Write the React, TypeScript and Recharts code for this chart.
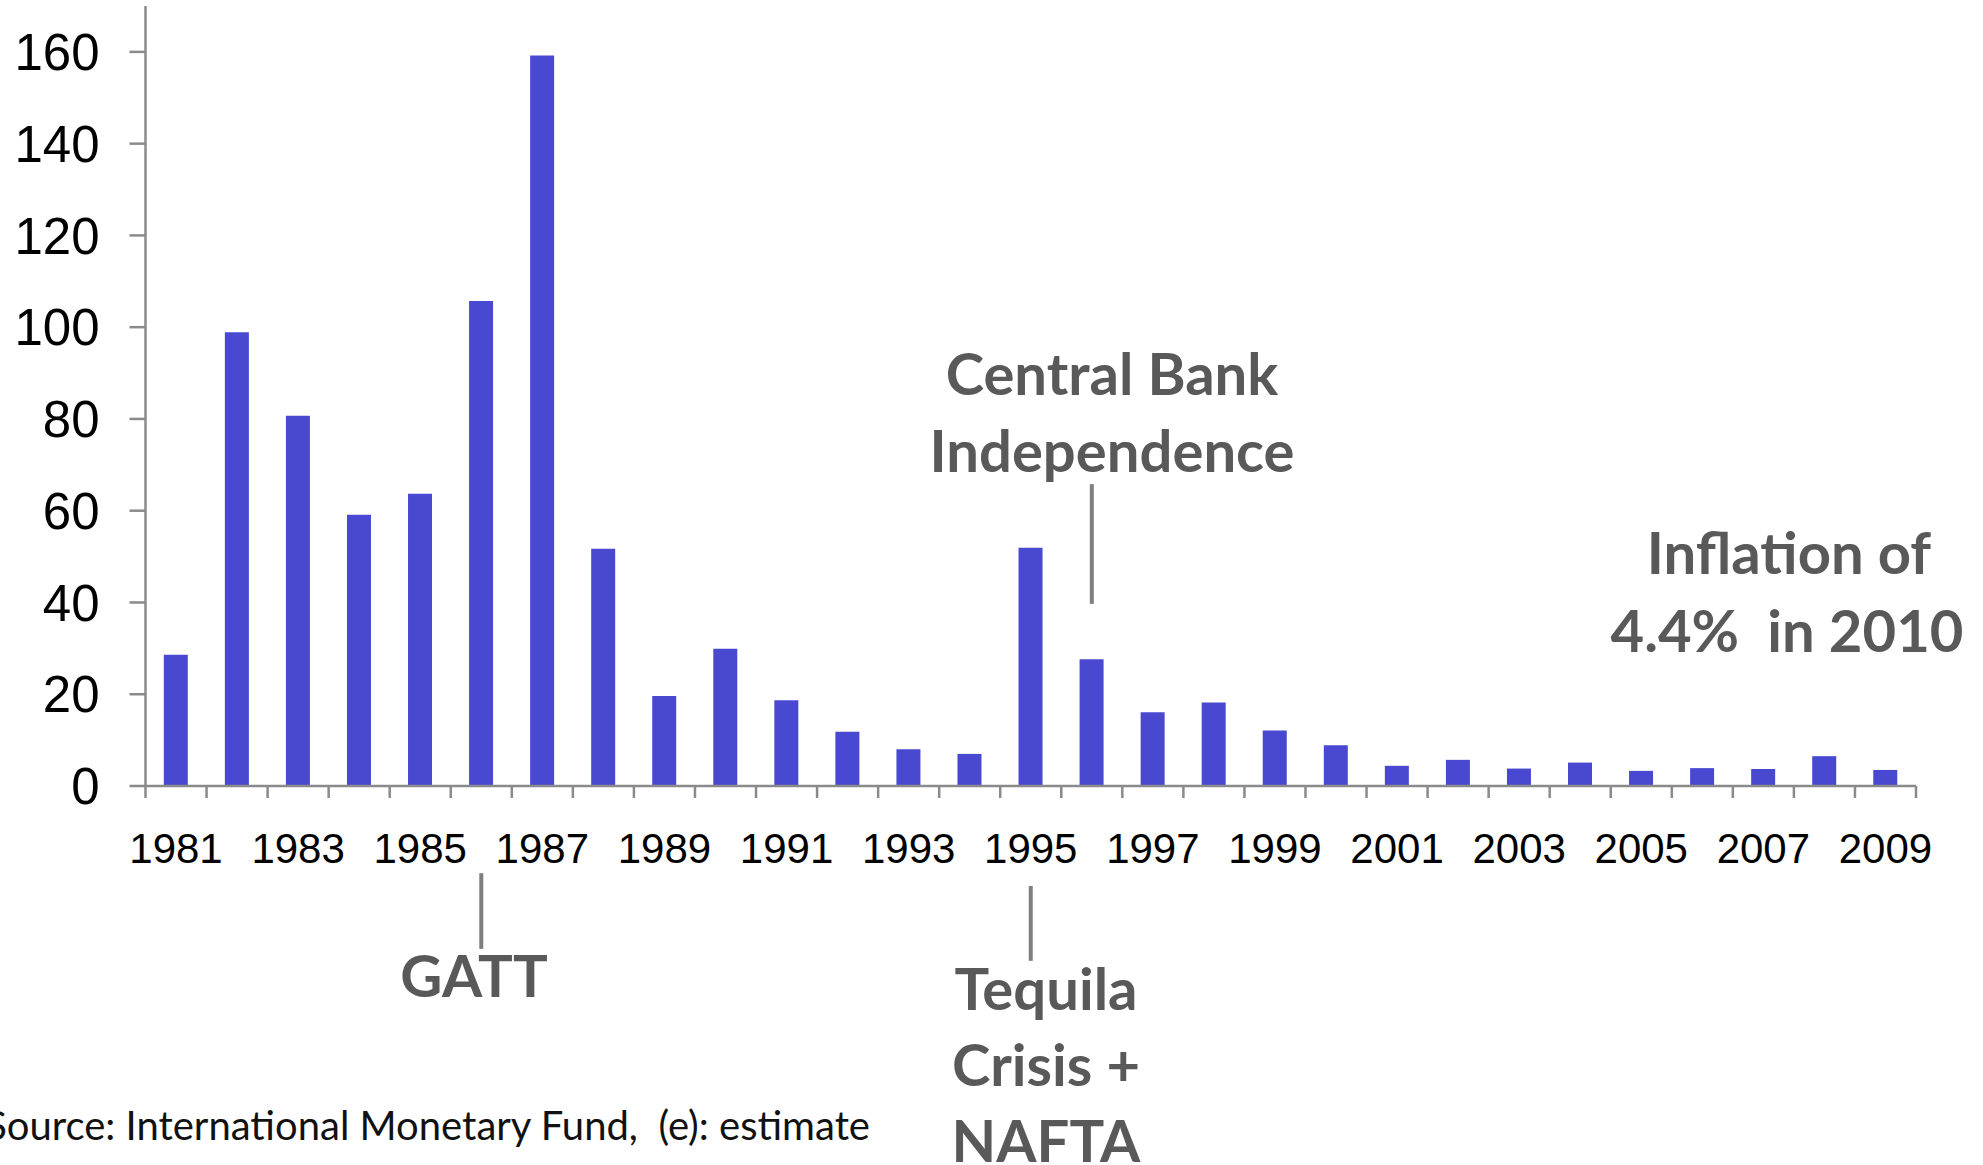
import { Bar, BarChart, ReferenceLine, XAxis, YAxis } from 'recharts'

const years = [
  '1981', '1982', '1983', '1984', '1985', '1986', '1987', '1988', '1989', '1990',
  '1991', '1992', '1993', '1994', '1995', '1996', '1997', '1998', '1999', '2000',
  '2001', '2002', '2003', '2004', '2005', '2006', '2007', '2008', '2009',
]

// annual inflation, %
const inflation = [
  28.6, 98.9, 80.7, 59.1, 63.7, 105.7, 159.2, 51.7, 19.6, 29.9,
  18.7, 11.8, 8.0, 7.0, 51.9, 27.6, 16.1, 18.2, 12.1, 8.9,
  4.4, 5.7, 3.8, 5.1, 3.3, 3.9, 3.7, 6.5, 3.5,
]

const yTicks = [0, 20, 40, 60, 80, 100, 120, 140, 160]

const chartData = years.map((year, i) => ({ year, value: inflation[i] }))

const AXIS_GRAY = '#8a8a8a'
const NOTE_GRAY = '#595959'
const BAR_BLUE = '#4848d0'

// pointer lines for the notes, in data units (below zero = under the axis)
const pointers = [
  { year: '1986', from: -19, to: -35.5 },
  { year: '1995', from: -21.8, to: -38.1 },
  { year: '1996', from: 39.7, to: 65.8 },
]

function YearTick(props: any) {
  const { x, y, payload, index } = props
  const half = payload?.offset ?? 30.5
  const last = index === years.length - 1
  return (
    <g>
      <line x1={x - half} x2={x - half} y1={y} y2={y + 12} stroke={AXIS_GRAY} strokeWidth={2.5} />
      {last && <line x1={x + half} x2={x + half} y1={y} y2={y + 12} stroke={AXIS_GRAY} strokeWidth={2.5} />}
      {index % 2 === 0 && (
        <text x={x} y={y + 77} textAnchor="middle" fontSize={42} fill="#000" fontFamily="'Liberation Sans', Arial, sans-serif">
          {payload.value}
        </text>
      )}
    </g>
  )
}

const noteStyle = {
  fontFamily: "Lato, 'Open Sans', sans-serif",
  fontWeight: 700,
  fontSize: 58,
  fill: NOTE_GRAY,
}

export default function App() {
  return (
    <div style={{ position: 'absolute', left: 0, top: 0, width: 1983, height: 1165, background: '#fff' }}>
      <BarChart
        width={1983}
        height={1165}
        data={chartData}
        margin={{ top: 6, right: 67, bottom: 279, left: 0 }}
        barCategoryGap="30%"
      >
        <XAxis
          dataKey="year"
          height={100}
          interval={0}
          tickSize={0}
          tickMargin={0}
          tickLine={false}
          axisLine={{ stroke: AXIS_GRAY, strokeWidth: 2.5 }}
          tick={<YearTick />}
        />
        <YAxis
          width={145.5}
          domain={[0, 170]}
          ticks={yTicks}
          interval={0}
          tickSize={16}
          tickMargin={30}
          tickLine={{ stroke: AXIS_GRAY, strokeWidth: 2.5 }}
          axisLine={{ stroke: AXIS_GRAY, strokeWidth: 2.5 }}
          tick={{ fontSize: 51, fill: '#000', fontFamily: "'Liberation Sans', Arial, sans-serif" }}
        />
        <Bar dataKey="value" fill={BAR_BLUE} isAnimationActive={false} />
        {pointers.map((p) => (
          <ReferenceLine
            key={p.year}
            segment={[{ x: p.year, y: p.from }, { x: p.year, y: p.to }]}
            stroke="#7f7f7f"
            strokeWidth={4}
            ifOverflow="visible"
          />
        ))}
      </BarChart>
      <svg
        width={1983}
        height={1165}
        style={{ position: 'absolute', left: 0, top: 0, pointerEvents: 'none' }}
      >
        <g style={noteStyle}>
          <text x={1112} y={395} textAnchor="middle">Central Bank</text>
          <text x={1112} y={472} textAnchor="middle">Independence</text>
          <text x={1789} y={574} textAnchor="middle">Inflation of</text>
          <text x={1787} y={652} textAnchor="middle">{'4.4%\u00a0 in 2010'}</text>
          <text x={474} y={997} textAnchor="middle">GATT</text>
          <text x={1046} y={1010} textAnchor="middle">Tequila</text>
          <text x={1046} y={1086} textAnchor="middle">Crisis +</text>
          <text x={1046} y={1162} textAnchor="middle">NAFTA</text>
        </g>
        <text
          x={870}
          y={1140}
          textAnchor="end"
          fontFamily="Lato, 'Open Sans', sans-serif"
          fontSize={40}
          fill="#111"
        >
          {'Source: International Monetary Fund,\u00a0 (e): estimate'}
        </text>
      </svg>
    </div>
  )
}
